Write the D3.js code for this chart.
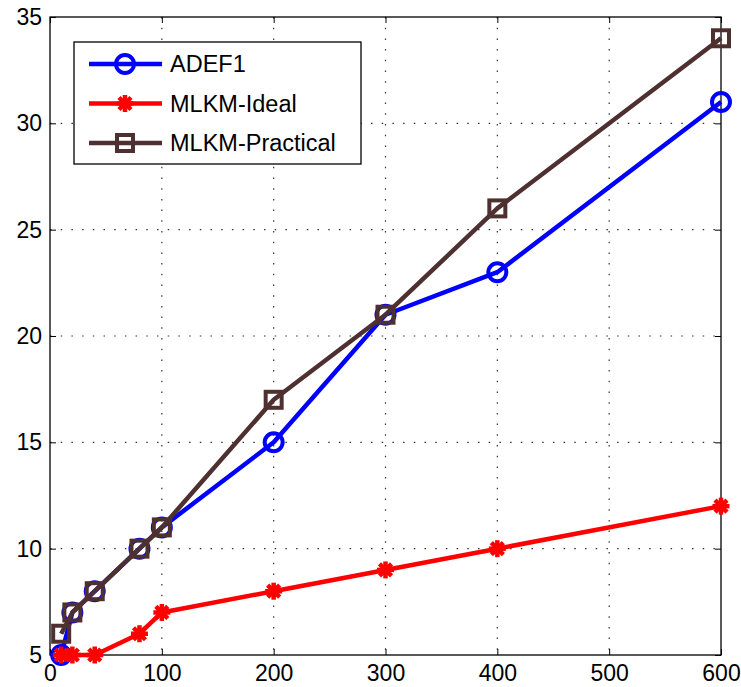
<!DOCTYPE html>
<html>
<head>
<meta charset="utf-8">
<script src="https://cdn.jsdelivr.net/npm/d3@7"></script>
<style>
  body { margin: 0; background: #fff; }
  text { font-family: "Liberation Sans", Arial, sans-serif; }
</style>
</head>
<body>
<svg id="chart"></svg>
<script>
// data
var xValues = [10, 20, 40, 80, 100, 200, 300, 400, 600];
var adef1 = [5, 7, 8, 10, 11, 15, 21, 23, 31];
var mlkmIdeal = [5, 5, 5, 6, 7, 8, 9, 10, 12];
var mlkmPractical = [6, 7, 8, 10, 11, 17, 21, 26, 34];
var xTicks = [0, 100, 200, 300, 400, 500, 600];
var yTicks = [5, 10, 15, 20, 25, 30, 35];
var seriesNames = ["ADEF1", "MLKM-Ideal", "MLKM-Practical"];

var svgWidth = 741, svgHeight = 687;
var margin = {left: 50, right: 20, top: 17, bottom: 32};
var w = svgWidth - margin.left - margin.right;
var h = svgHeight - margin.top - margin.bottom;

var svg = d3.select('#chart')
            .attr("width", svgWidth)
            .attr("height", svgHeight);

var g = svg.append("g").attr("transform", "translate(" + margin.left + "," + margin.top + ")");

var xScale = d3.scaleLinear().domain([0, 600]).range([0, w]);
var yScale = d3.scaleLinear().domain([5, 35]).range([h, 0]);

// dotted grid
g.selectAll(".gx").data(xTicks.slice(1, -1)).enter().append("line")
    .attr("x1", d => xScale(d)).attr("x2", d => xScale(d))
    .attr("y1", 0).attr("y2", h)
    .attr("stroke", "#333").attr("stroke-width", 1.2)
    .attr("stroke-dasharray", "1.5,9.2");
g.selectAll(".gy").data(yTicks.slice(1, -1)).enter().append("line")
    .attr("x1", 0).attr("x2", w)
    .attr("y1", d => yScale(d)).attr("y2", d => yScale(d))
    .attr("stroke", "#333").attr("stroke-width", 1.2)
    .attr("stroke-dasharray", "1.5,9.2");

// axes with inward ticks
var xAxis = d3.axisBottom(xScale).tickValues(xTicks).tickSizeInner(-6).tickSizeOuter(0).tickPadding(10);
var yAxis = d3.axisLeft(yScale).tickValues(yTicks).tickSizeInner(-6).tickSizeOuter(0).tickPadding(8);
var xTop = d3.axisTop(xScale).tickValues(xTicks).tickSizeInner(-6).tickSizeOuter(0).tickFormat("");
var yRight = d3.axisRight(yScale).tickValues(yTicks).tickSizeInner(-6).tickSizeOuter(0).tickFormat("");

var ax = g.append("g").attr("transform", "translate(0," + h + ")").call(xAxis);
var ay = g.append("g").call(yAxis);
g.append("g").call(xTop);
g.append("g").attr("transform", "translate(" + w + ",0)").call(yRight);
svg.selectAll(".tick text").attr("font-size", 23).attr("fill", "#000")
    .style("font-family", "Liberation Sans, Arial, sans-serif");
svg.selectAll(".domain").remove();
svg.selectAll(".tick line").attr("stroke", "#000");
ax.selectAll(".tick text").attr("dy", "0.71em");

g.append("rect").attr("x", 0).attr("y", 0).attr("width", w).attr("height", h)
    .attr("fill", "none").attr("stroke", "#000").attr("stroke-width", 1.3);

var colors = ["#0000ff", "#ff0000", "#4f3030"];
var allSeries = [adef1, mlkmIdeal, mlkmPractical];
var line = d3.line().x(function(d, i) { return xScale(xValues[i]); }).y(function(d) { return yScale(d); });

function drawMarker(sel, k, x, y) {
    if (k === 0) {
        sel.append("circle").attr("cx", x).attr("cy", y).attr("r", 9)
           .attr("fill", "none").attr("stroke", colors[k]).attr("stroke-width", 4);
    } else if (k === 1) {
        var r = 8.5;
        for (var a = 0; a < 4; a++) {
            var ang = a * Math.PI / 4;
            sel.append("line")
               .attr("x1", x - r * Math.cos(ang)).attr("y1", y - r * Math.sin(ang))
               .attr("x2", x + r * Math.cos(ang)).attr("y2", y + r * Math.sin(ang))
               .attr("stroke", colors[k]).attr("stroke-width", 4.5);
        }
        sel.append("circle").attr("cx", x).attr("cy", y).attr("r", 5).attr("fill", colors[k]);
    } else {
        sel.append("rect").attr("x", x - 8).attr("y", y - 8).attr("width", 16).attr("height", 16)
           .attr("fill", "none").attr("stroke", colors[k]).attr("stroke-width", 4);
    }
}

allSeries.forEach(function(s, k) {
    g.append("path").datum(s).attr("d", line)
        .attr("fill", "none").attr("stroke", colors[k]).attr("stroke-width", 4.5)
        .attr("stroke-linejoin", "round");
    var mg = g.append("g");
    s.forEach(function(d, i) { drawMarker(mg, k, xScale(xValues[i]), yScale(d)); });
});

// legend
var lg = svg.append("g").attr("transform", "translate(74,42)");
lg.append("rect").attr("width", 287).attr("height", 122)
    .attr("fill", "#fff").attr("stroke", "#000").attr("stroke-width", 1.3);
seriesNames.forEach(function(name, k) {
    var yy = 22 + k * 39.5;
    lg.append("line").attr("x1", 15).attr("x2", 88).attr("y1", yy).attr("y2", yy)
        .attr("stroke", colors[k]).attr("stroke-width", 4.5);
    drawMarker(lg, k, 51, yy);
    lg.append("text").attr("x", 96).attr("y", yy).attr("dy", "0.36em")
        .attr("font-size", 23.5).text(name);
});
</script>
</body>
</html>
